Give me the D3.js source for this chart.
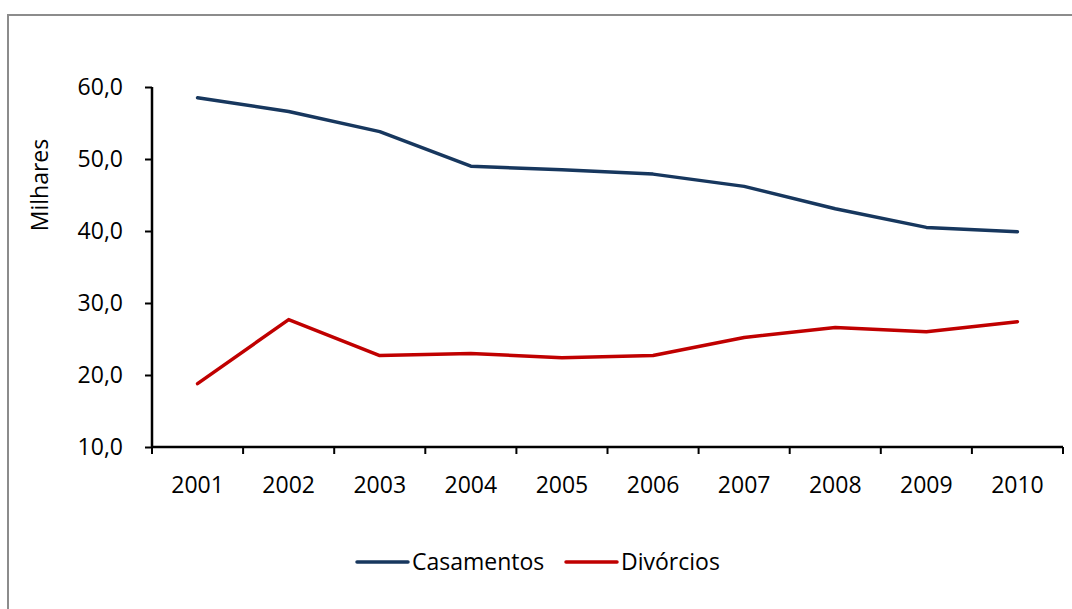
<!DOCTYPE html>
<html><head><meta charset="utf-8">
<script src="https://cdn.jsdelivr.net/npm/d3@7"></script>
<style>body{margin:0;background:#fff}svg{display:block}</style>
</head><body>
<svg id="c" width="1072" height="609"></svg>
<script>
const years = ["2001","2002","2003","2004","2005","2006","2007","2008","2009","2010"];
const casamentos = [58.5, 56.6, 53.8, 49.0, 48.5, 47.9, 46.2, 43.1, 40.5, 39.9];
const divorcios = [18.8, 27.7, 22.7, 23.0, 22.4, 22.7, 25.2, 26.6, 26.0, 27.4];
const yTicks = [10, 20, 30, 40, 50, 60];
const seriesNames = ["Casamentos", "Divórcios"];
const seriesColors = ["#17375E", "#C00000"];

const svg = d3.select("#c");
const font = "'Open Sans', sans-serif";
const fs = 23;

// outer frame
svg.append("rect").attr("x", 8).attr("y", 15).attr("width", 1080).attr("height", 620)
  .attr("fill", "none").attr("stroke", "#8c8c8c").attr("stroke-width", 2);

const x = d3.scaleBand().domain(years).range([152, 1063]);
const y = d3.scaleLinear().domain([10, 60]).range([447, 87]);

const fmt = d => d3.format(".1f")(d).replace(".", ",");

const yAxis = svg.append("g").attr("transform", "translate(152,0)")
  .call(d3.axisLeft(y).tickValues(yTicks).tickFormat(fmt).tickSizeOuter(0).tickSizeInner(7).tickPadding(22));
const xAxis = svg.append("g").attr("transform", "translate(0,447)")
  .call(d3.axisBottom(x).tickSize(0).tickPadding(30));
// category boundary ticks on x axis
const bounds = years.map(d => x(d)).concat([x.range()[1]]);
xAxis.selectAll(".bt").data(bounds).enter().append("line")
  .attr("x1", d => d).attr("x2", d => d).attr("y1", 0).attr("y2", 7)
  .attr("stroke", "#000").attr("stroke-width", 2);

[yAxis, xAxis].forEach(g => {
  g.selectAll("path.domain").attr("stroke", "#000").attr("stroke-width", 2.5);
  g.selectAll(".tick line").attr("stroke", "#000").attr("stroke-width", 2);
  g.selectAll("text").attr("font-family", font).attr("font-size", fs).attr("fill", "#000");
});
xAxis.select("path.domain").attr("d", "M152,0H1063");
yAxis.select("path.domain").attr("d", "M0,87V447");

svg.append("text").attr("transform", "translate(48,185) rotate(-90)")
  .attr("text-anchor", "middle").attr("font-family", font).attr("font-size", fs)
  .text("Milhares");

const line = d3.line().x((d, i) => x(years[i]) + x.bandwidth() / 2).y(d => y(d));
[casamentos, divorcios].forEach((s, i) => {
  svg.append("path").attr("d", line(s)).attr("fill", "none")
    .attr("stroke", seriesColors[i]).attr("stroke-width", 3.5)
    .attr("stroke-linejoin", "round").attr("stroke-linecap", "round");
});

// legend
const legX = [357, 566];
seriesNames.forEach((n, i) => {
  const g = svg.append("g").attr("transform", `translate(${legX[i]},562)`);
  g.append("line").attr("x1", 0).attr("x2", 51).attr("stroke", seriesColors[i]).attr("stroke-width", 3.5).attr("stroke-linecap", "round");
  g.append("text").attr("x", 55).attr("y", 8).attr("font-family", font).attr("font-size", fs).text(n);
});
</script>
</body></html>
